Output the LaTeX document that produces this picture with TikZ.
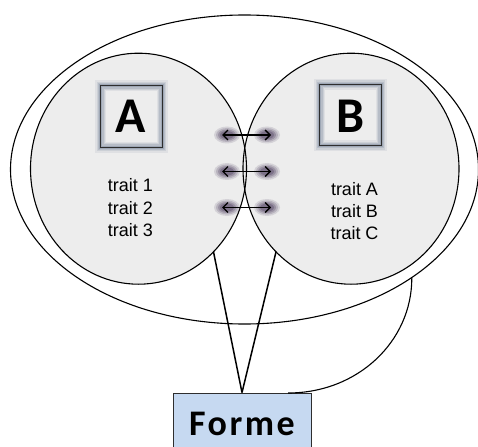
\documentclass[tikz,border=0pt]{standalone}
\usepackage{fontspec}
\setmainfont{Liberation Sans}
\newfontfamily\calib{Carlito}
\newfontfamily\calibls{Carlito}[LetterSpace=7]
\usetikzlibrary{shapes.geometric,arrows.meta}
\definecolor{circfill}{HTML}{EDEDED}
\definecolor{formefill}{HTML}{C6D9F1}
\definecolor{glowbox}{HTML}{7A889C}
\definecolor{glowarr}{HTML}{4A3B5C}
\definecolor{boxline}{HTML}{2E2E2E}
\begin{document}
\begin{tikzpicture}[x=1pt,y=-1pt,
  outerell/.style={ellipse, draw, line width=1.1pt, minimum width=468pt, minimum height=309pt, inner sep=0pt},
  circst/.style={ellipse, fill=circfill, minimum width=216pt, minimum height=231pt, inner sep=0pt},
  circline/.style={line width=1.1pt},
  boxst/.style={rectangle, minimum size=61pt, inner sep=0pt},
  letterst/.style={font=\calib\bfseries\fontsize{50}{56}\selectfont, inner sep=0pt},
  traitst/.style={font=\fontsize{18}{22}\selectfont, inner sep=0pt},
  formest/.style={rectangle, draw=boxline, line width=0.9pt, fill=formefill, minimum width=138pt, minimum height=61pt, inner sep=0pt, font=\calibls\bfseries\fontsize{36}{40}\selectfont},
  conn/.style={line width=1.5pt},
  dblarrow/.style={line width=1.3pt, {Straight Barb[length=5pt,width=10pt]}-{Straight Barb[length=5pt,width=10pt]}},
]
\useasboundingbox (0,0) rectangle (478,446);
\clip (0,0) rectangle (478,446);

% outer ellipse
\node[outerell] (outer) at (244.5,169.5) {};

% circles
\node[circst] (A) at (138.5,168.7) {};
\node[circst] (B) at (351,168.7) {};
\draw[circline] (A.center) ellipse [x radius=108pt, y radius=115.5pt];
\draw[circline] (B.center) ellipse [x radius=108pt, y radius=115.5pt];

% boxes with glow
\node[boxst] (bxA) at (131.5,116.5) {};
\node[boxst] (bxB) at (350.5,115) {};
\foreach \b in {bxA,bxB}{
  \foreach \w/\o in {11/0.12, 8/0.18, 5.5/0.25, 3/0.4}{
    \draw[glowbox, line width=\w pt, opacity=\o] (\b.north west) rectangle (\b.south east);
  }
  \draw[boxline, line width=1pt] (\b.north west) rectangle (\b.south east);
}
\node[letterst, anchor=base] (lA) at (131,133) {A};
\node[letterst, anchor=base] (lB) at (351,132.5) {B};

% traits
\node[traitst, anchor=base] (t1) at (130.5,192) {trait 1};
\node[traitst, anchor=base] (t2) at (130.5,214) {trait 2};
\node[traitst, anchor=base] (t3) at (130.5,236) {trait 3};
\node[traitst, anchor=base] (tA) at (354.5,195) {trait A};
\node[traitst, anchor=base] (tB) at (354.5,217) {trait B};
\node[traitst, anchor=base] (tC) at (354.5,239) {trait C};

% arrow glows and arrows
\foreach \i/\y in {1/135,2/171.5,3/207.5}{
  \coordinate (l\i) at (222,\y);
  \coordinate (r\i) at (271,\y);
  \foreach \x in {227,267}{
    \foreach \rx/\ry/\o in {13/8.5/0.15, 11/7/0.2, 9/5.5/0.28, 7/4/0.35}{
      \fill[glowarr, opacity=\o] (\x,\y) ellipse [x radius=\rx pt, y radius=\ry pt];
    }
  }
  \draw[dblarrow] (l\i) -- (r\i);
}

% Forme
\node[formest] (forme) at (242,423.5) {Forme};
\draw[conn] (A.-48) -- (forme.north);
\draw[conn] (B.-132) -- (forme.north);
\coordinate (fc) at (288,393);
\draw[circline] (outer.-33) .. controls +(0,63) and +(70,0) .. (fc);
\end{tikzpicture}
\end{document}
